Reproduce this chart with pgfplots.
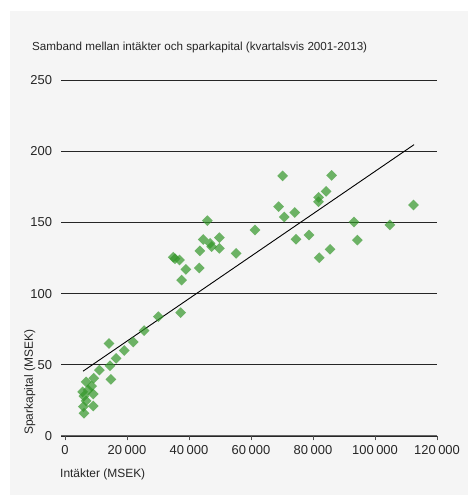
\documentclass[border=0pt]{standalone}
\usepackage{fontspec}
\setmainfont{Liberation Sans}
\usepackage{pgfplots}
\pgfplotsset{compat=1.18}
\definecolor{bg}{HTML}{F5F5F5}
\definecolor{mk}{RGB}{50,150,40}
\begin{document}
\begin{tikzpicture}[x=1bp,y=1bp]
\path[use as bounding box] (0,0) rectangle (468,495);
\fill[bg] (10,0) rectangle (468,484);
\node[anchor=base west,font=\fontsize{11.7}{14}\selectfont,text=black!85,inner sep=0pt] at (32,444) {Samband mellan intäkter och sparkapital (kvartalsvis 2001-2013)};
\begin{axis}[
  at={(61bp,59bp)}, anchor=south west,
  scale only axis, width=376bp, height=356bp,
  xmin=-1300, xmax=120000, ymin=0, ymax=250,
  xtick={0,20000,40000,60000,80000,100000,120000},
  ytick={0,50,100,150,200,250},
  scaled x ticks=false,
  xticklabel={\pgfmathprintnumber[fixed,precision=0,assume math mode=true,1000 sep={\kern0.2em}]{\tick}},
  yticklabel={\pgfmathprintnumber[fixed,precision=0,assume math mode=true]{\tick}},
  ymajorgrids, grid style={black!85, line width=0.7bp},
  axis x line*=bottom, axis y line*=left,
  x axis line style={draw=none},
  y axis line style={draw=none},
  xtick style={black!70, line width=0.6bp},
  ytick style={draw=none},
  tick align=outside, major tick length=4.5bp,
  ticklabel style={font=\fontsize{13}{15}\selectfont, text=black!85},
  xticklabel style={yshift=-1bp},
  yticklabel style={xshift=-1bp},
  clip=false,
]
\draw[black!60, line width=1bp] (axis cs:-1300,0) -- (axis cs:120000,0);
\addplot[only marks, mark=square*, mark size=3.8bp, mark options={rotate=45, fill=mk, draw opacity=0, fill opacity=0.7}] coordinates {
(14200,65) (25500,74) (22000,66) (19100,60) (16450,54.5) (14500,49.4) (11100,46.3)
(14800,39.8) (9250,40.5) (6800,38) (8600,35) (5700,31) (7500,32.3) (9100,29.5)
(6100,28) (6800,24.6) (5900,20.6) (9100,21) (6100,16)
(45900,151.2) (44600,138) (49800,139.3) (46800,135.3) (47300,133) (49800,131.8)
(43500,130) (55200,128.3) (61300,144.7) (34900,125.5) (35500,124.5) (36900,123.6)
(39000,117) (43300,118) (37600,109.5) (37300,86.6) (30100,83.8)
(70200,182.6) (86000,183) (84200,171.8) (81800,167.6) (81800,164.5) (68900,161)
(74100,157) (70700,153.8) (93200,150.3) (74500,138.1) (78700,141.1) (85500,131.1)
(82000,125.2) (94300,137.6) (112400,162.2) (104800,148.2)
};
\addplot[black, line width=0.9bp] coordinates {(5800,45.5) (112600,204.6)};
\node[anchor=base west, inner sep=0pt, font=\fontsize{12}{14}\selectfont, text=black!85] at ([xshift=-1bp,yshift=-41bp]axis description cs:0,0) {Intäkter (MSEK)};
\node[anchor=base west, inner sep=0pt, rotate=90, font=\fontsize{12}{14}\selectfont, text=black!85] at ([xshift=-28bp,yshift=1bp]axis description cs:0,0) {Sparkapital (MSEK)};
\end{axis}
\end{tikzpicture}
\end{document}
